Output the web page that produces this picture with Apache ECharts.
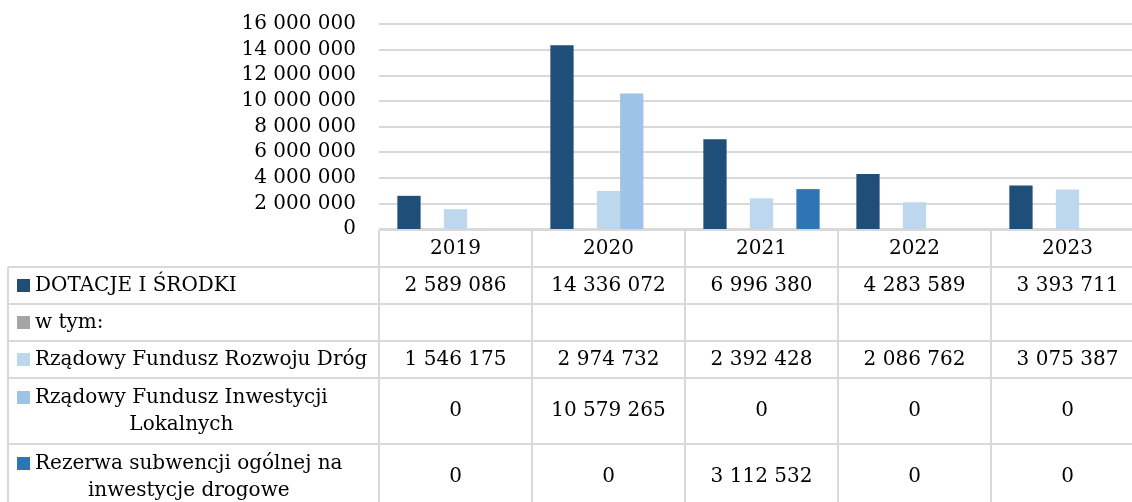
<!DOCTYPE html>
<html>
<head>
<meta charset="utf-8">
<script src="https://cdn.jsdelivr.net/npm/echarts@6/dist/echarts.min.js"></script>
</head>
<body style="margin:0">
<div id="chart" style="width:1132px;height:502px"></div>
<script>
var years = ['2019', '2020', '2021', '2022', '2023'];
var dotacje = [2589086, 14336072, 6996380, 4283589, 3393711];
var wTym = [null, null, null, null, null];
var rfrd = [1546175, 2974732, 2392428, 2086762, 3075387];
var rfil = [0, 10579265, 0, 0, 0];
var rezerwa = [0, 0, 3112532, 0, 0];

var rows = [
    { name: 'DOTACJE I ŚRODKI', label: 'DOTACJE I ŚRODKI', data: dotacje, color: '#1f4e79', h: 37 },
    { name: 'w tym:', label: 'w tym:', data: wTym, color: '#a5a5a5', h: 37 },
    { name: 'Rządowy Fundusz Rozwoju Dróg', label: 'Rządowy Fundusz Rozwoju Dróg', data: rfrd, color: '#bdd7ee', h: 37 },
    { name: 'Rządowy Fundusz Inwestycji Lokalnych', label: 'Rządowy Fundusz Inwestycji\nLokalnych', data: rfil, color: '#9dc3e6', h: 66 },
    { name: 'Rezerwa subwencji ogólnej na inwestycje drogowe', label: 'Rezerwa subwencji ogólnej na\ninwestycje drogowe', data: rezerwa, color: '#2e75b6', h: 66 }
];

var FONT = '"DejaVu Serif", serif';
var FSIZE = 20;
var LINE = '#d9d9d9';

function fmt(v) {
    if (v === null || v === undefined) return '';
    return String(v).replace(/\B(?=(\d{3})+(?!\d))/g, ' ');
}

// widest line of a label, to centre the wrapped lines like Excel does
var measureCtx = document.createElement('canvas').getContext('2d');
measureCtx.font = FSIZE + 'px ' + FONT;
function labelWidth(s) {
    return Math.max.apply(null, s.split('\n').map(function (l) { return measureCtx.measureText(l).width; }));
}

var chart = echarts.init(document.getElementById('chart'));
chart.setOption({
    animation: false,
    grid: { left: 379, width: 765, top: 24, bottom: 273, containLabel: false, outerBoundsMode: 'none' },
    xAxis: {
        type: 'category',
        data: years,
        axisLine: { show: false },
        axisTick: { show: false },
        axisLabel: { show: false }
    },
    yAxis: {
        type: 'value',
        min: 0,
        max: 16000000,
        interval: 2000000,
        axisLine: { show: false },
        axisTick: { show: false },
        splitLine: { lineStyle: { color: LINE, width: 2 } },
        axisLabel: {
            formatter: fmt,
            color: '#000',
            fontFamily: FONT,
            fontSize: FSIZE,
            margin: 23
        }
    },
    series: rows.map(function (r) {
        return {
            name: r.name,
            type: 'bar',
            data: r.data,
            barGap: '0%',
            barCategoryGap: '24%',
            itemStyle: { color: r.color }
        };
    })
});

// data table under the plot
var x0 = chart.convertToPixel({ xAxisIndex: 0 }, 0);
var x1 = chart.convertToPixel({ xAxisIndex: 0 }, 1);
var band = x1 - x0;
var colLeft = x0 - band / 2;
var yTop = chart.convertToPixel({ yAxisIndex: 0 }, 0) + 1;
var tableLeft = 8;
var tableRight = colLeft + band * years.length;
var headerH = 37;

var els = [];
function hline(y, xa, xb) {
    els.push({ type: 'line', silent: true, shape: { x1: xa, y1: y, x2: xb, y2: y }, style: { stroke: LINE, lineWidth: 2 } });
}
function vline(x, ya, yb) {
    els.push({ type: 'line', silent: true, shape: { x1: x, y1: ya, x2: x, y2: yb }, style: { stroke: LINE, lineWidth: 2 } });
}
function text(t, x, y, align, lh) {
    els.push({
        type: 'text', silent: true,
        style: {
            text: t, x: x, y: y,
            fill: '#000', fontSize: FSIZE, fontFamily: FONT,
            align: align, textAlign: align,
            verticalAlign: 'middle', textVerticalAlign: 'middle',
            lineHeight: lh || 26
        }
    });
}

var yBottom = yTop + headerH;
rows.forEach(function (r) { yBottom += r.h; });

hline(yTop, colLeft, tableRight);
for (var c = 0; c <= years.length; c++) {
    vline(colLeft + band * c, yTop, yBottom);
}
vline(tableLeft, yTop + headerH, yBottom);

years.forEach(function (yr, i) {
    text(yr, colLeft + band * (i + 0.5), yTop + headerH / 2, 'center');
});

var y = yTop + headerH;
rows.forEach(function (r) {
    hline(y, tableLeft, tableRight);
    var mid = y + r.h / 2;
    var multi = r.label.indexOf('\n') >= 0;
    var firstY = multi ? mid - 13.5 : mid;
    els.push({ type: 'rect', silent: true, shape: { x: 17, y: firstY - 6.5, width: 13, height: 13 }, style: { fill: r.color } });
    if (multi) {
        text(r.label, 35 + labelWidth(r.label) / 2, mid, 'center', 27);
    } else {
        text(r.label, 35, mid, 'left');
    }
    r.data.forEach(function (v, i) {
        text(fmt(v), colLeft + band * (i + 0.5), mid, 'center');
    });
    y += r.h;
});
hline(y, tableLeft, tableRight);

chart.setOption({ graphic: { elements: els } });
</script>
</body>
</html>
